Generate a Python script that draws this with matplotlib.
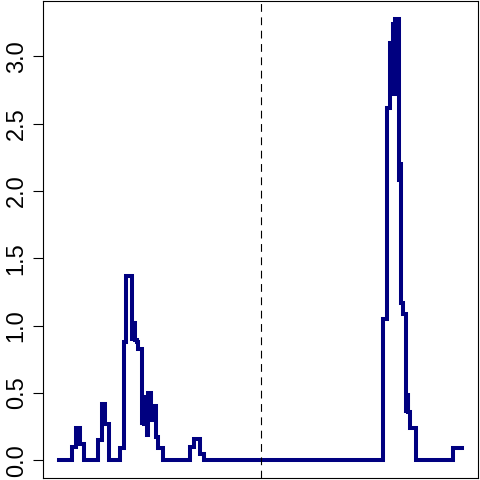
import matplotlib.pyplot as plt

plt.rcParams['font.family'] = ['Liberation Sans', 'DejaVu Sans']

# step series (x position, value), drawn as R-style type="s"
x = [0, 3.2, 4.2, 5.2, 6.1, 9.6, 10.6, 11.5, 12.3, 15.0, 16.0, 16.7, 18.1, 18.4,
     18.9, 19.4, 19.7, 20.6, 20.9, 21.1, 21.4, 21.9, 22.1, 22.9, 23.3, 24.1, 24.6,
     25.8, 32.4, 33.4, 34.9, 35.9, 80.3, 81.3, 82.1, 82.8, 83.1, 83.4, 84.3, 84.6,
     85.0, 85.5, 86.2, 86.5, 86.7, 87.0, 88.5, 97.8, 100]
y = [0, 0.10, 0.24, 0.12, 0, 0.15, 0.42, 0.27, 0, 0.09, 0.88, 1.37, 0.90, 1.02,
     0.89, 0.88, 0.83, 0.28, 0.45, 0.27, 0.47, 0.19, 0.50, 0.30, 0.40, 0.17, 0.09,
     0, 0.10, 0.16, 0.05, 0, 1.05, 2.62, 3.10, 3.24, 2.72, 3.28, 2.08, 2.20,
     1.17, 1.09, 0.37, 0.50, 0.36, 0.24, 0, 0.09, 0.09]
split_x = 50
yticks = [0.0, 0.5, 1.0, 1.5, 2.0, 2.5, 3.0]

fig = plt.figure(figsize=(4.8, 4.8), dpi=100)
ax = fig.add_axes([43 / 480, 2 / 480, 435 / 480, 477 / 480])

ax.step(x, y, where='post', color='#000080', lw=2.9, solid_joinstyle='miter')
ax.axvline(split_x, color='black', lw=0.8, linestyle=(0, (7, 5)))
ax.margins(0.04)

ax.set_xticks([])
ax.set_yticks(yticks)
ax.set_yticklabels(['%.1f' % v for v in yticks], fontsize=17)
ax.tick_params(axis='y', length=7, width=0.8, pad=4)
for lab in ax.get_yticklabels():
    lab.set_rotation(90)
    lab.set_va('center')
for s in ax.spines.values():
    s.set_linewidth(0.8)

fig.savefig('out.png', dpi=100)
